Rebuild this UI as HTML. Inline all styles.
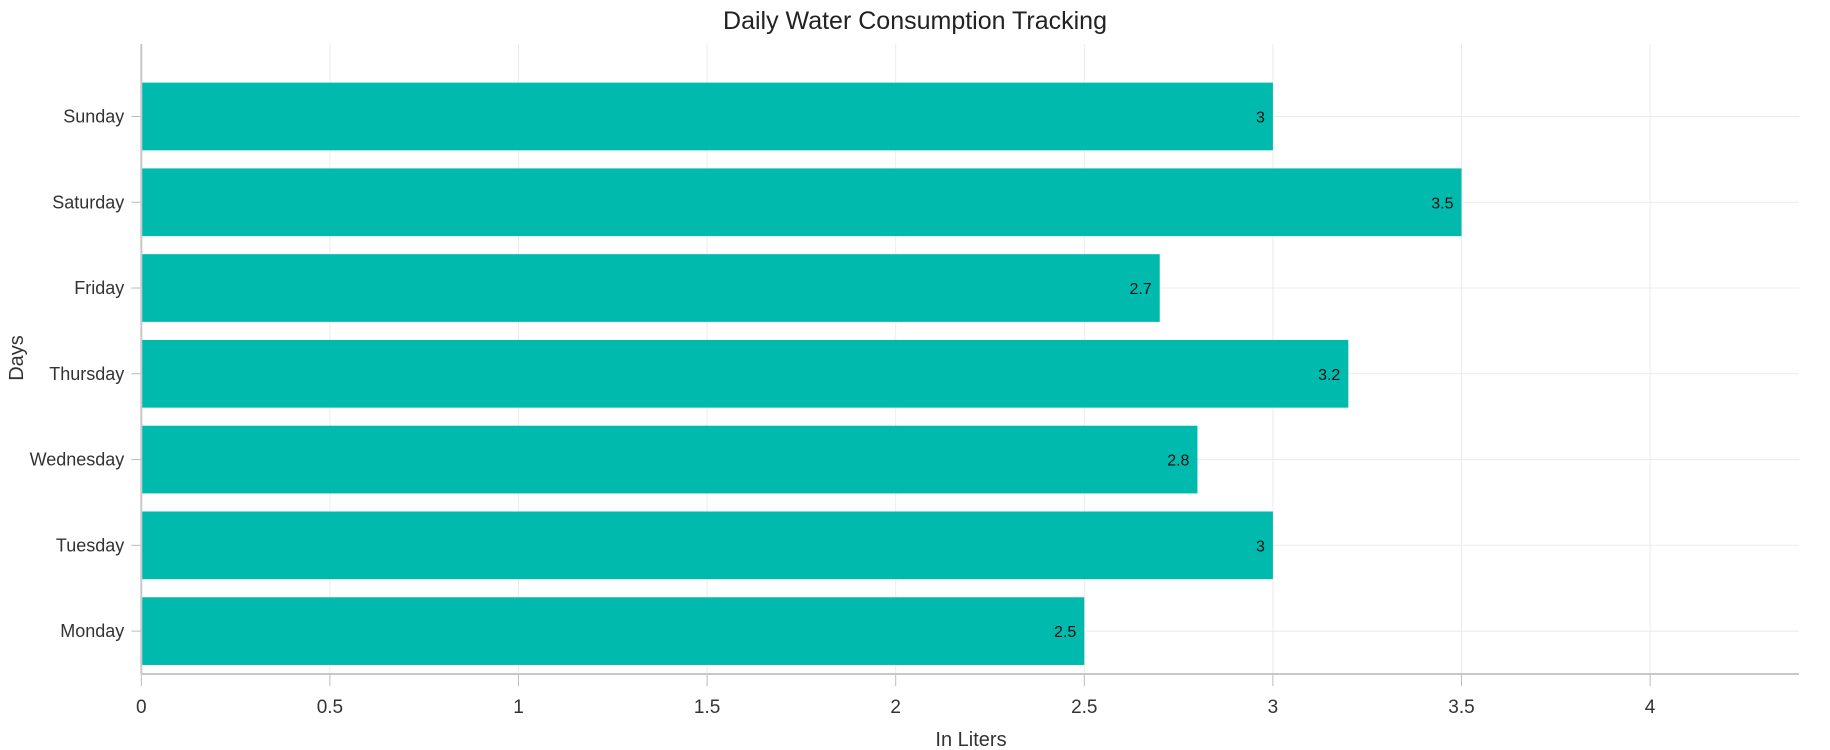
<!DOCTYPE html>
<html><head><meta charset="utf-8"><style>
html,body{margin:0;padding:0;background:#fff;width:1830px;height:750px;overflow:hidden}
text{font-family:"Liberation Sans",sans-serif}
</style></head><body>
<svg id="chart" width="1830" height="750" xmlns="http://www.w3.org/2000/svg">
<text x="915" y="29" text-anchor="middle" font-size="25" fill="#222">Daily Water Consumption Tracking</text>
<g id="grid"></g><g id="bars"></g><g id="axes"></g>
<text x="971" y="746" text-anchor="middle" font-size="20" fill="#333">In Liters</text>
<text transform="translate(23,358) rotate(-90)" text-anchor="middle" font-size="20" fill="#333">Days</text>
</svg>
<script>
const categories=["Monday","Tuesday","Wednesday","Thursday","Friday","Saturday","Sunday"];
const values=[2.5,3,2.8,3.2,2.7,3.5,3];
const xTicks=[0,0.5,1,1.5,2,2.5,3,3.5,4];
const NS="http://www.w3.org/2000/svg";
const x0=141.3,xUnit=377.2,gridTop=44,bandTop=73.6,axisY=674,xEnd=1799;
const xs=v=>x0+v*xUnit;
const step=(axisY-bandTop)/categories.length;
const yc=i=>axisY-step*(i+0.5);
function mk(tag,attrs,parent,txt){const e=document.createElementNS(NS,tag);for(const k in attrs)e.setAttribute(k,attrs[k]);if(txt!==undefined)e.textContent=txt;document.getElementById(parent).appendChild(e);return e;}
xTicks.forEach(t=>{
 let g=mk('line',{x1:xs(t),x2:xs(t),y1:gridTop,y2:axisY,stroke:'#ebebeb','stroke-width':1},'grid');
 
 
 let tk=mk('line',{x1:xs(t),x2:xs(t),y1:axisY,y2:axisY+12,stroke:'#bbb','stroke-width':1},'axes');
 
 
 let l=mk('text',{x:xs(t),y:713,'text-anchor':'middle','font-size':19,fill:'#333'},'axes',String(t));
 
 
});
categories.forEach((c,i)=>{
 let g=mk('line',{x1:x0,x2:xEnd,y1:yc(i),y2:yc(i),stroke:'#ebebeb','stroke-width':1},'grid');
 
 
 let bh=67.7;
 let b=mk('rect',{x:x0,y:yc(i)-bh/2,width:xs(values[i])-x0,height:bh,fill:'#00bbad'},'bars');
 
 
 let v=mk('text',{x:xs(values[i])-8,y:yc(i)+6,'text-anchor':'end','font-size':16,fill:'#111'},'bars',String(values[i]));
 
 
 let tk=mk('line',{x1:x0-10,x2:x0,y1:yc(i),y2:yc(i),stroke:'#bbb','stroke-width':1},'axes');
 
 
 let l=mk('text',{x:x0-17,y:yc(i)+6,'text-anchor':'end','font-size':18,fill:'#333'},'axes',c);
 
 
});
let ya=mk('line',{x1:x0,x2:x0,y1:gridTop,y2:axisY,stroke:'#c8c8c8','stroke-width':2},'axes');


let xa=mk('line',{x1:x0,x2:xEnd,y1:axisY,y2:axisY,stroke:'#c8c8c8','stroke-width':2},'axes');


</script>
</body></html>
